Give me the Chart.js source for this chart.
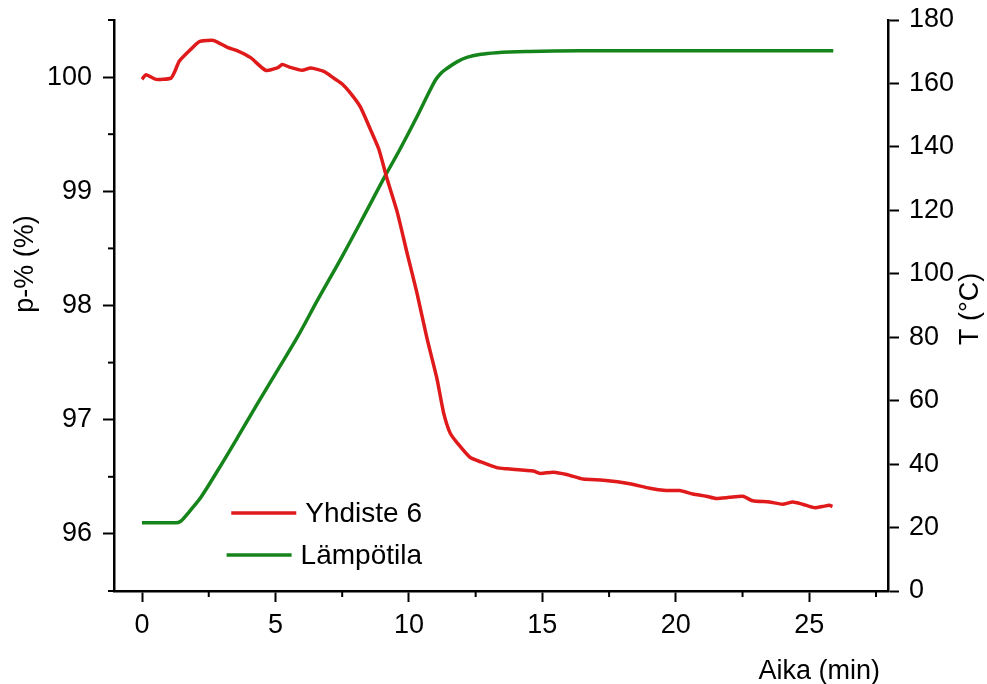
<!DOCTYPE html>
<html>
<head>
<meta charset="utf-8">
<script src="https://cdn.jsdelivr.net/npm/chart.js@4.4.1/dist/chart.umd.min.js"></script>
<style>
  html, body { margin: 0; padding: 0; background: #fff; }
  #wrap { position: relative; width: 987px; height: 684px; }
</style>
</head>
<body>
<div id="wrap"><canvas id="chart-tga"></canvas></div>
<script>
// Mass (p-%) of compound 6 and oven temperature against time

const timeMass = [0, 0.15, 0.52, 1.08, 1.21, 1.4, 1.77, 2.14, 2.45, 2.7, 3.2, 3.58, 4.07, 4.63,
  5.07, 5.26, 5.5, 6.0, 6.32, 6.81, 7.19, 7.5, 7.81, 8.18, 8.56, 8.87, 9.18, 9.56, 9.93, 10.3,
  10.68, 11.05, 11.3, 11.55, 11.8, 12.29, 12.7, 13.29, 13.67, 14.66, 14.91, 15.41, 15.91, 16.53,
  17.28, 18.27, 19.02, 19.64, 20.14, 20.64, 21.14, 21.51, 22.01, 22.51, 22.88, 23.5, 24.0,
  24.38, 24.75, 25.19, 25.5, 25.75, 25.87];
const massPct = [99.98, 100.02, 99.98, 99.99, 100.04, 100.14, 100.23, 100.31, 100.32, 100.32,
  100.26, 100.23, 100.17, 100.06, 100.08, 100.11, 100.09, 100.06, 100.08, 100.05, 99.99, 99.94,
  99.86, 99.74, 99.54, 99.37, 99.11, 98.82, 98.46, 98.11, 97.71, 97.36, 97.06, 96.88, 96.8,
  96.67, 96.63, 96.58, 96.57, 96.55, 96.53, 96.54, 96.52, 96.48, 96.47, 96.44, 96.4, 96.38,
  96.38, 96.35, 96.33, 96.31, 96.32, 96.33, 96.29, 96.28, 96.26, 96.28, 96.26, 96.23, 96.24,
  96.25, 96.24];

const timeTemp = [0, 1.27, 1.45, 1.58, 1.85, 2.2, 2.83, 3.58, 4.32, 5.07, 5.82, 6.57, 7.5, 8.3,
  9.12, 9.68, 10.3, 10.8, 10.99, 11.2, 11.42, 11.8, 12.17, 12.7, 13.29, 14.5, 16.4, 25.9];
const tempC = [21.5, 21.5, 22, 23.1, 25.8, 29.5, 37.9, 48.4, 59.0, 69.5, 80.0, 91.6, 105.5, 118,
  131, 139.5, 149.5, 158, 161, 163.2, 164.7, 166.8, 168.2, 169.2, 169.7, 170.1, 170.3, 170.3];

const seriesNames = ['Yhdiste 6', 'Lämpötila'];
const axisTitles = { x: 'Aika (min)', y: 'p-% (%)', y2: 'T (°C)' };

const FONT = '"Liberation Sans", Arial, sans-serif';
const RED = '#e01a1a';
const GREEN = '#15841a';

const toPoints = (xs, ys) => xs.map((x, i) => ({ x, y: ys[i] }));

// major ticks come from the grid, the short ones in between are drawn here
const minorTicks = {
  id: 'minorTicks',
  afterDraw(chart) {
    const ctx = chart.ctx;
    const area = chart.chartArea;
    ctx.save();
    ctx.strokeStyle = '#000';
    ctx.lineWidth = 2;
    ['x', 'y', 'y2'].forEach(id => {
      const s = chart.scales[id];
      const step = s.options.ticks.stepSize * 2;
      s.ticks.forEach(t => {
        if (Math.abs(t.value / step - Math.round(t.value / step)) < 1e-6) return;
        const p = s.getPixelForValue(t.value);
        ctx.beginPath();
        if (id === 'x') { ctx.moveTo(p, area.bottom); ctx.lineTo(p, area.bottom + 6); }
        else if (id === 'y') { ctx.moveTo(area.left, p); ctx.lineTo(area.left - 6, p); }
        else { ctx.moveTo(area.right, p); ctx.lineTo(area.right + 6, p); }
        ctx.stroke();
      });
    });
    ctx.restore();
  },
};

// axis titles and the in-plot legend
const annotations = {
  id: 'annotations',
  afterDraw(chart) {
    const ctx = chart.ctx;
    const area = chart.chartArea;
    ctx.save();
    ctx.fillStyle = '#000';
    ctx.font = '27px ' + FONT;

    ctx.textAlign = 'right';
    ctx.textBaseline = 'alphabetic';
    ctx.fillText(axisTitles.x, area.right - 8, 679);

    ctx.save();
    ctx.translate(33, 264);
    ctx.rotate(-Math.PI / 2);
    ctx.textAlign = 'center';
    ctx.fillText(axisTitles.y, 0, 0);
    ctx.restore();

    ctx.save();
    ctx.translate(978, 345);
    ctx.rotate(-Math.PI / 2);
    ctx.textAlign = 'left';
    ctx.fillText(axisTitles.y2, 0, 0);
    ctx.restore();

    // legend
    ctx.font = '28px ' + FONT;
    ctx.textAlign = 'right';
    ctx.textBaseline = 'middle';
    const right = 422;
    const rows = [513, 555];
    chart.data.datasets.forEach((ds, i) => {
      const y = rows[i];
      const w = ctx.measureText(ds.label).width;
      const x1 = right - w - 9;
      ctx.fillText(ds.label, right, y + 1);
      ctx.strokeStyle = ds.borderColor;
      ctx.lineWidth = 3.5;
      ctx.beginPath();
      ctx.moveTo(x1 - 65, y);
      ctx.lineTo(x1, y);
      ctx.stroke();
    });
    ctx.restore();
  },
};

const majorOnly = step => c => (Math.abs(c.tick.value / step - Math.round(c.tick.value / step)) < 1e-6 ? '#000' : 'rgba(0,0,0,0)');

// fixed axis sizes so the plot box stays put
const fitWidth = w => s => { s.width = w; s.paddingTop = 0; s.paddingBottom = 0; };

new Chart(document.getElementById('chart-tga'), {
  type: 'scatter',
  data: {
    datasets: [
      {
        label: seriesNames[0],
        data: toPoints(timeMass, massPct),
        yAxisID: 'y',
        showLine: true,
        borderColor: RED,
        borderWidth: 3.5,
        pointRadius: 0,
        tension: 0.2,
      },
      {
        label: seriesNames[1],
        data: toPoints(timeTemp, tempC),
        yAxisID: 'y2',
        showLine: true,
        borderColor: GREEN,
        borderWidth: 3.5,
        pointRadius: 0,
        cubicInterpolationMode: 'monotone',
      },
    ],
  },
  options: {
    responsive: true,
    maintainAspectRatio: false,
    animation: false,
    layout: { padding: { top: 20, left: 0, right: 0, bottom: 0 } },
    plugins: {
      legend: { display: false },
      tooltip: { enabled: false },
    },
    scales: {
      x: {
        type: 'linear',
        min: -1.05,
        max: 27.95,
        afterFit: s => { s.height = 93; s.paddingLeft = 0; s.paddingRight = 0; },
        border: { display: true, color: '#000', width: 2.5 },
        grid: { drawOnChartArea: false, tickLength: 11, tickWidth: 2, tickColor: majorOnly(5) },
        ticks: {
          stepSize: 2.5,
          includeBounds: false,
          padding: 7,
          color: '#000',
          font: { family: FONT, size: 27 },
          callback: v => (v % 5 === 0 ? v : ''),
        },
      },
      y: {
        position: 'left',
        min: 95.5,
        max: 100.5,
        afterFit: fitWidth(114),
        border: { display: true, color: '#000', width: 2.5 },
        grid: { drawOnChartArea: false, tickLength: 11, tickWidth: 2, tickColor: majorOnly(1) },
        ticks: {
          stepSize: 0.5,
          includeBounds: false,
          padding: 11,
          color: '#000',
          font: { family: FONT, size: 27 },
          callback: v => (Number.isInteger(v) ? v : ''),
        },
      },
      y2: {
        position: 'right',
        min: 0,
        max: 180,
        afterFit: fitWidth(99),
        border: { display: true, color: '#000', width: 2.5 },
        grid: { drawOnChartArea: false, tickLength: 11, tickWidth: 2, tickColor: majorOnly(20) },
        ticks: {
          stepSize: 10,
          padding: 10,
          color: '#000',
          font: { family: FONT, size: 27 },
          callback: v => (v % 20 === 0 ? v : ''),
        },
      },
    },
  },
  plugins: [minorTicks, annotations],
});
</script>
</body>
</html>
